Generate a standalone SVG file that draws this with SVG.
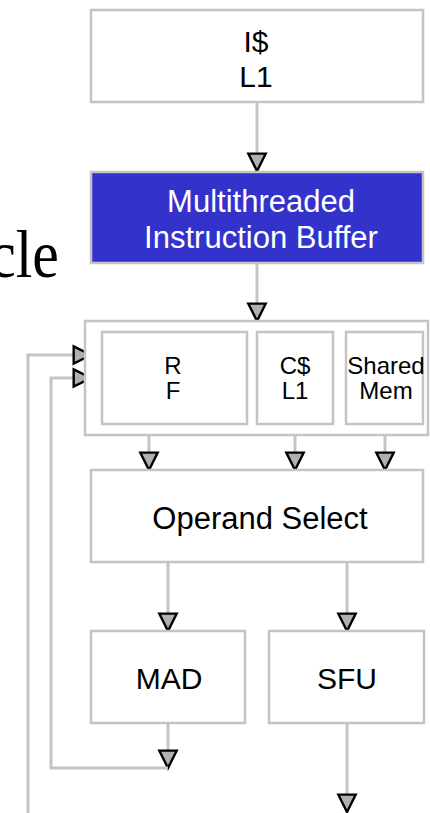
<svg xmlns="http://www.w3.org/2000/svg" width="430" height="813" viewBox="0 0 430 813">
<style>
.box{fill:#fff;stroke:#c4c4c4;stroke-width:2.5}
.blue{fill:#3333cc;stroke:#c4c4c4;stroke-width:2.5}
.lbl{font-family:"Liberation Sans",Arial,sans-serif;text-anchor:middle;fill:#000}
.w{fill:#fff}
.conn{fill:none;stroke:#c4c4c4;stroke-width:3;marker-end:url(#ah)}
</style>
<defs>
<marker id="ah" markerUnits="userSpaceOnUse" markerWidth="26" markerHeight="26" viewBox="-3 -12 22 24" refX="16" refY="0" orient="auto">
<path d="M0,-8 L16,0 L0,8 Z" fill="#b0b0b0" stroke="#000" stroke-width="2.2"/>
</marker>
</defs>
<rect width="430" height="813" fill="#fff"/>
<text x="-12.3" y="277" font-family="'Liberation Serif','Times New Roman',serif" font-size="68" transform="scale(0.88 1)" fill="#000">cle</text>

<g id="connectors">
<line class="conn" x1="257" y1="102" x2="257" y2="171"/>
<line class="conn" x1="257" y1="263" x2="257" y2="321"/>
<line class="conn" x1="149" y1="424" x2="149" y2="470"/>
<line class="conn" x1="295" y1="424" x2="295" y2="470"/>
<line class="conn" x1="385" y1="424" x2="385" y2="470"/>
<line class="conn" x1="168" y1="562" x2="168" y2="631"/>
<line class="conn" x1="347" y1="562" x2="347" y2="631"/>
<line class="conn" x1="168" y1="723" x2="168" y2="768"/>
<polyline class="conn" points="168,768 51,768 51,378 91,378"/>
<polyline class="conn" points="28,815 28,355 91,355"/>
<line class="conn" x1="347" y1="723" x2="347" y2="812"/>
</g>

<g id="icache">
<rect class="box" x="91" y="10" width="332" height="92"/>
<text class="lbl" x="256" y="52" font-size="30">I$</text>
<text class="lbl" x="256" y="87" font-size="30">L1</text>
</g>

<g id="buffer">
<rect class="blue" x="91" y="172" width="332" height="91"/>
<text class="lbl w" x="261" y="212" font-size="31">Multithreaded</text>
<text class="lbl w" x="261" y="248" font-size="31">Instruction Buffer</text>
</g>

<g id="operands">
<rect class="box" x="85" y="321" width="343" height="114"/>
</g>

<g id="rf">
<rect class="box" x="102" y="332" width="145" height="92"/>
<text class="lbl" x="173" y="374" font-size="24">R</text>
<text class="lbl" x="173" y="399" font-size="24">F</text>
</g>

<g id="ccache">
<rect class="box" x="257" y="332" width="76" height="92"/>
<text class="lbl" x="295" y="374" font-size="24">C$</text>
<text class="lbl" x="295" y="399" font-size="24">L1</text>
</g>

<g id="shared">
<rect class="box" x="346" y="332" width="77" height="92"/>
<text class="lbl" x="386" y="374" font-size="24">Shared</text>
<text class="lbl" x="386" y="399" font-size="24">Mem</text>
</g>

<g id="opsel">
<rect class="box" x="91" y="470" width="332" height="92"/>
<text class="lbl" x="260" y="529" font-size="31">Operand Select</text>
</g>

<g id="mad">
<rect class="box" x="91" y="631" width="154" height="92"/>
<text class="lbl" x="169" y="689" font-size="30">MAD</text>
</g>

<g id="sfu">
<rect class="box" x="269" y="631" width="155" height="92"/>
<text class="lbl" x="347" y="689" font-size="30">SFU</text>
</g>
</svg>
